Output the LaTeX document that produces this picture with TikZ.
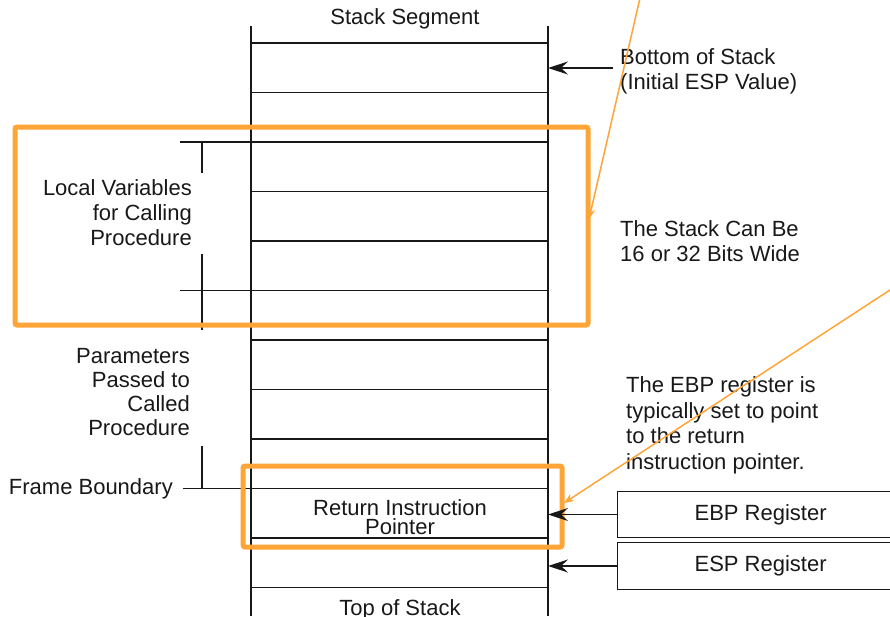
\documentclass[tikz,border=0pt]{standalone}
\usepackage{fontspec}
\setmainfont{Liberation Sans}
\usetikzlibrary{arrows.meta}
\definecolor{ink}{RGB}{24,24,24}
\definecolor{hilite}{RGB}{255,165,55}

\begin{document}
\begin{tikzpicture}[x=1pt,y=-1pt]
\useasboundingbox (0,0) rectangle (890,616);

% the stack itself
\begin{scope}[draw=ink,line width=1.2pt]
    \draw (251,26) -- (251,616);
    \draw (548,26) -- (548,616);
    \foreach \k in {0,...,11}
        \draw (251,{43+49.5*\k}) -- (548,{43+49.5*\k});
    \draw (180,142) -- (251,142);
    \draw (180,290.5) -- (251,290.5);
    \draw (183,488.5) -- (251,488.5);
    \draw (202,142) -- (202,173);
    \draw (202,254) -- (202,330);
    \draw (202,446) -- (202,488.5);
\end{scope}

\begin{scope}[every node/.style={text=ink,inner sep=0pt,font=\fontsize{22}{25}\selectfont}]
    \node (seg) at (405,19) {Stack Segment};
    \node (bos)[anchor=west,align=left] at (620,71.5) {Bottom of Stack\\(Initial ESP Value)};
    \node (wide)[anchor=west,align=left] at (620,241) {The Stack Can Be\\16 or 32 Bits Wide};
    \node (ebpnote)[anchor=west,align=left,font=\fontsize{22}{25.5}\selectfont] at (626,425.5)
        {The EBP register is\\typically set to point\\to the return\\instruction pointer.};
    \node (locals)[anchor=east,align=right] at (192,213) {Local Variables\\for Calling\\Procedure};
    \node (params)[anchor=east,align=right,font=\fontsize{22}{24.3}\selectfont] at (190,392)
        {Parameters\\Passed to\\Called\\Procedure};
    \node (frame)[anchor=east] at (173,489) {Frame Boundary};
    \node (rip)[align=center,font=\fontsize{22}{18.5}\selectfont] at (400,517) {Return Instruction\\Pointer};
    \node (tos) at (400,610) {Top of Stack};
\end{scope}

\begin{scope}[every node/.style={draw=ink,line width=1.2pt,text=ink,anchor=west,
              minimum width=286pt,font=\fontsize{22}{25}\selectfont}]
    \node (ebp)[minimum height=46pt] at (617,514.5) {EBP Register};
    \node (esp)[minimum height=47pt] at (617,566) {ESP Register};
\end{scope}

% highlights
\draw[hilite,line width=5pt,rounded corners=2pt] (15,127) rectangle (588,325);
\draw[hilite,line width=5pt,rounded corners=2pt] (243,466) rectangle (562,547);

\coordinate (bosfrom) at (613,68);
\coordinate (bostip) at (548,68);
\coordinate (ebptip) at (548,514.5);
\coordinate (esptip) at (548,566);

\begin{scope}[every edge/.style={draw=ink,line width=1.2pt,
              -{Stealth[length=20pt,width=13pt,inset=7pt]}}]
    \path (bosfrom) edge (bostip);
    \path (ebp.west) edge (ebptip);
    \path (esp.west) edge (esptip);
\end{scope}

\coordinate (pA) at (640,-2);
\coordinate (tipA) at (589,219);
\coordinate (pB) at (893,288);
\coordinate (tipB) at (564,503);
\begin{scope}[every edge/.style={draw=hilite,line width=1.5pt,
              -{Stealth[length=10pt,width=8pt]}}]
    \path (pA) edge (tipA);
    \path (pB) edge (tipB);
\end{scope}
\end{tikzpicture}
\end{document}
